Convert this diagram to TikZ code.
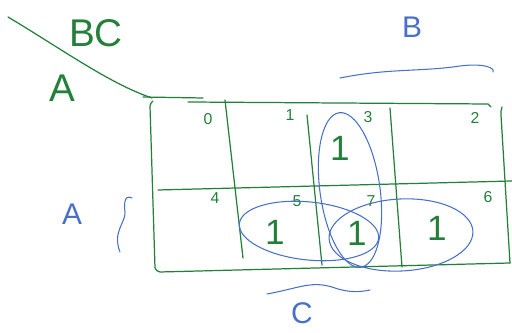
\documentclass[tikz,border=0pt]{standalone}
\usepackage{fontspec}
\setmainfont{Liberation Sans}
\usetikzlibrary{positioning}
\definecolor{penGreen}{RGB}{35,128,58}
\definecolor{penBlue}{RGB}{72,112,200}

\begin{document}
\begin{tikzpicture}[x=0.02cm, y=-0.02cm,
  gridline/.style={draw=penGreen, line width=0.7pt, line cap=round},
  group/.style={draw=penBlue, line width=0.6pt},
  squiggle/.style={draw=penBlue, line width=0.6pt, line cap=round},
  idx/.style={text=penGreen, font=\fontsize{9}{9}\selectfont, inner sep=1pt},
  one/.style={text=penGreen, font=\fontsize{20}{20}\selectfont, inner sep=1pt},
  glabel/.style={text=penGreen, font=\fontsize{22}{22}\selectfont, inner sep=1pt},
  blabel/.style={text=penBlue, font=\fontsize{17}{17}\selectfont, inner sep=1pt}]
  \useasboundingbox (0,0) rectangle (512,333);

  % corner labels
  \coordinate (slashA) at (8,17);
  \coordinate (slashB) at (152,98);
  \draw[gridline] (slashA) .. controls (60,48) and (110,84) .. (slashB);
  \node[glabel] (bc) at (96,33) {BC};
  \node[glabel] (rowvar) at (62,88) {A};

  % frame and grid
  \draw[gridline] (143,97) -- (203,98);
  \draw[gridline] (188,102) -- (488,104) to[bend left=20] (491,107);
  \draw[gridline] (153,101) to[bend right=20] (150,106) -- (155,268) to[bend right=30] (160,272) -- (510,263);
  \draw[gridline] (502,107) to[bend right=10] (501,115) -- (510,263);
  \draw[gridline] (158,190) -- (512,181);
  \draw[gridline] (225,100) -- (243,258);
  \draw[gridline] (307,115) -- (322,265);
  \draw[gridline] (390,108) -- (402,267);

  % cell indices
  \node[idx] (m0) at (208,119) {0};
  \node[idx] (m1) at (290,115) {1};
  \node[idx] (m3) at (368,117) {3};
  \node[idx] (m2) at (475,118) {2};
  \node[idx] (m4) at (215,198) {4};
  \node[idx] (m5) at (297,201) {5};
  \node[idx] (m7) at (371,201) {7};
  \node[idx] (m6) at (488,197) {6};

  % cell values
  \node[one] (v3) at (340,148) {1};
  \node[one] (v5) at (275,232) {1};
  \node[one] (v7) at (357,233) {1};
  \node[one] (v6) at (437,228) {1};

  % groups
  \draw[group, rotate around={8:(350,190)}] (350,190) ellipse [x radius=30, y radius=78];
  \draw[group, rotate around={-6:(309,231)}] (309,231) ellipse [x radius=70, y radius=29];
  \draw[group, rotate around={3:(401,235)}] (401,235) ellipse [x radius=72, y radius=36];

  % variable marks
  \node[blabel] (colB) at (412,27) {B};
  \draw[squiggle] (340,78) .. controls (390,68) and (420,72) .. (460,66) .. controls (485,63) and (495,68) .. (493,72);
  \node[blabel] (rowA) at (72,214) {A};
  \draw[squiggle] (132,198) .. controls (124,194) and (124,205) .. (125,212) .. controls (126,222) and (112,232) .. (120,252);
  \draw[squiggle] (267,294) .. controls (300,288) and (312,280) .. (335,288) .. controls (350,293) and (360,292) .. (370,290);
  \node[blabel] (colC) at (302,313) {C};
\end{tikzpicture}
\end{document}
